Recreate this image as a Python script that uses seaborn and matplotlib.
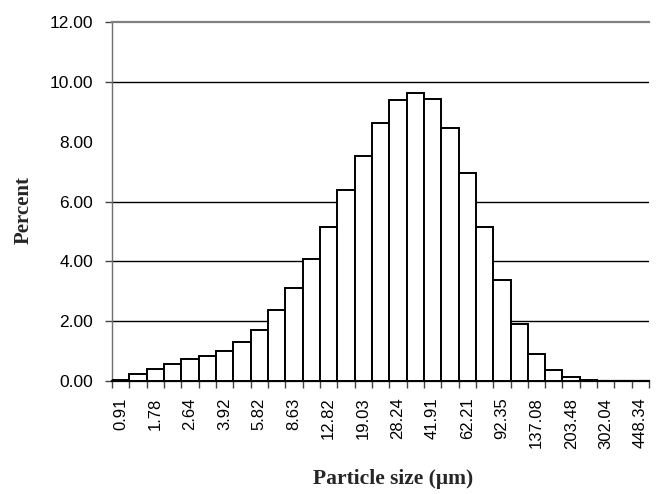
import matplotlib
matplotlib.use("Agg")
import matplotlib.pyplot as plt
import seaborn as sns
import pandas as pd

sizes = ["0.91", "1.46", "1.78", "2.17", "2.64", "3.22", "3.92", "4.78", "5.82", "7.09",
         "8.63", "10.52", "12.82", "15.62", "19.03", "23.18", "28.24", "34.40", "41.91",
         "51.06", "62.21", "75.80", "92.35", "112.51", "137.08", "167.01", "203.48",
         "247.91", "302.04", "367.99", "448.34"]
percent = [0.05, 0.22, 0.41, 0.56, 0.72, 0.83, 1.01, 1.31, 1.71, 2.36,
           3.12, 4.07, 5.14, 6.39, 7.53, 8.62, 9.38, 9.64, 9.41, 8.44,
           6.94, 5.16, 3.38, 1.91, 0.91, 0.38, 0.14, 0.05, 0.01, 0.0, 0.0]
yticks = [0, 2, 4, 6, 8, 10, 12]
grid_levels = [2, 4, 6, 10]

df = pd.DataFrame({"size": sizes, "percent": percent})

sns.set_theme(style="white")
plt.rcParams["font.family"] = ["Liberation Sans", "DejaVu Sans"]

fig = plt.figure(figsize=(6.57, 4.94), dpi=100)
ax = fig.add_axes([0.1705, 0.2287, 0.8175, 0.7268])

sns.barplot(data=df, x="size", y="percent", order=sizes, width=1.0,
            color="white", edgecolor="black", linewidth=1.4, saturation=1,
            ax=ax, zorder=3)

ax.set_xlim(-0.5, len(sizes) - 0.5)
ax.set_ylim(0, 12)

for g in grid_levels:
    ax.axhline(g, color="black", linewidth=1.0, zorder=1)

# y ticks
ax.set_yticks(yticks)
ax.set_yticklabels([f"{v:.2f}" for v in yticks], fontsize=12.5, color="black")
ax.tick_params(axis="y", direction="out", length=5, width=1, color="#444444",
               left=True, pad=8.5)
for t, v in zip(ax.yaxis.get_major_ticks(), yticks):
    if v == 8:
        t.tick1line.set_visible(False)

# x ticks: labels on every other bar, tick marks at bar boundaries
ax.set_xticks(range(0, len(sizes), 2))
ax.set_xticklabels(sizes[::2], rotation=90, fontsize=12, color="black")
ax.tick_params(axis="x", length=0, pad=12)
ax.set_xticks([i - 0.5 for i in range(len(sizes) + 1)], minor=True)
ax.tick_params(axis="x", which="minor", direction="out", length=5, width=1,
               color="#444444", bottom=True)

ax.spines["right"].set_visible(False)
ax.spines["top"].set_color("#808080")
ax.spines["top"].set_linewidth(1.6)
ax.spines["left"].set_color("#707070")
ax.spines["left"].set_linewidth(1.0)
ax.spines["bottom"].set_color("black")
ax.spines["bottom"].set_linewidth(1.6)

ax.set_xlabel("Particle size (μm)", fontsize=15.5, fontweight="bold",
              family=["Liberation Serif", "DejaVu Serif"])
ax.xaxis.set_label_coords(0.524, -0.245)
ax.set_ylabel("Percent", fontsize=15, fontweight="bold",
              family=["Liberation Serif", "DejaVu Serif"])
ax.yaxis.set_label_coords(-0.146, 0.476)

fig.savefig("out.png", dpi=100, facecolor="white")
